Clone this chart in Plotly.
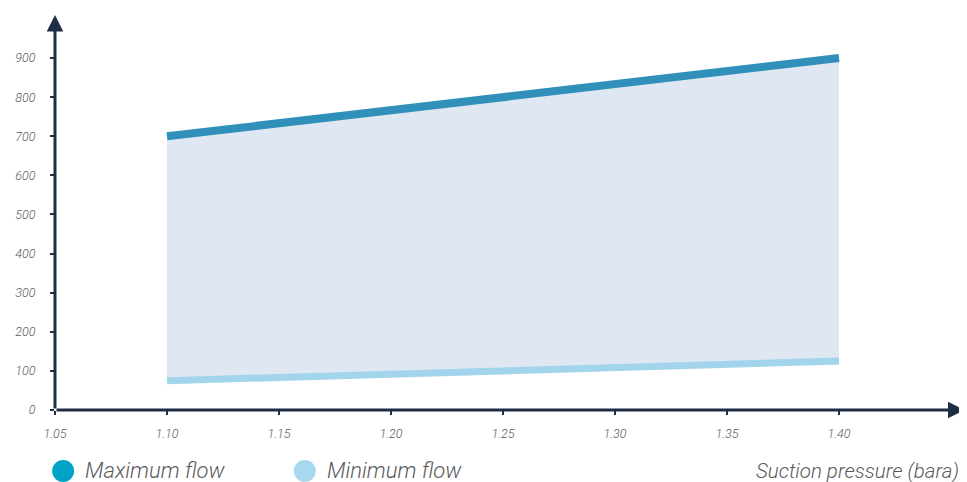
import plotly.graph_objects as go

pressure = [1.10, 1.40]
max_flow = [700, 900]
min_flow = [75, 125]
x_ticks = [1.05, 1.10, 1.15, 1.20, 1.25, 1.30, 1.35, 1.40]
x_tick_labels = ["1.05", "1.10", "1.15", "1.20", "1.25", "1.30", "1.35", "1.40"]
y_ticks = [0, 100, 200, 300, 400, 500, 600, 700, 800, 900]
series_names = ["Maximum flow", "Minimum flow"]

X0, X1 = 1.05, 1.454
Y0, Y1 = 0, 1005
axis_col = "#1e2c45"
max_col = "#3090ba"
min_col = "#a2d4ec"
fill_col = "#dfe8f2"
txt_col = "#5a5a5a"
font_fam = "Roboto, Liberation Sans, sans-serif"

fig = go.Figure()
fig.add_trace(go.Scatter(x=pressure, y=min_flow, mode="lines",
                         line=dict(color=min_col, width=7), showlegend=False,
                         hoverinfo="skip"))
fig.add_trace(go.Scatter(x=pressure, y=max_flow, mode="lines", fill="tonexty",
                         fillcolor=fill_col,
                         line=dict(color=max_col, width=8), showlegend=False,
                         hoverinfo="skip"))

fig.update_layout(
    width=959, height=474,
    margin=dict(l=43, r=7, t=9, b=72),
    paper_bgcolor="white", plot_bgcolor="white",
    font=dict(family=font_fam, color=txt_col),
    xaxis=dict(range=[X0, X1], tickvals=x_ticks, ticktext=x_tick_labels,
               showgrid=False, zeroline=False, showline=False,
               ticks="outside", ticklen=4, tickwidth=2, tickcolor=axis_col,
               ticklabelstandoff=8,
               tickfont=dict(size=12.5, style="italic", color=txt_col, weight=300)),
    yaxis=dict(range=[Y0, Y1], tickvals=y_ticks,
               showgrid=False, zeroline=False, showline=False,
               ticks="outside", ticklen=4, tickwidth=2, tickcolor=axis_col,
               ticklabelstandoff=12,
               tickfont=dict(size=12.5, style="italic", color=txt_col, weight=300)),
    showlegend=False,
)

# axes with arrowheads
fig.add_annotation(x=X1 + 0.002, y=0, ax=X0, ay=0, xref="x", yref="y", axref="x", ayref="y",
                   showarrow=True, arrowhead=2, arrowsize=1.1, arrowwidth=3,
                   arrowcolor=axis_col, text="")
fig.add_annotation(x=X0, y=Y1 + 5, ax=X0, ay=0, xref="x", yref="y", axref="x", ayref="y",
                   showarrow=True, arrowhead=2, arrowsize=1.1, arrowwidth=3,
                   arrowcolor=axis_col, text="")

# manual legend
legend_cols = ["#00a3c6", "#a8d8ef"]
legend_x = [0.009, 0.276]
for name, col, lx in zip(series_names, legend_cols, legend_x):
    fig.add_shape(type="circle", xref="paper", yref="paper",
                  xsizemode="pixel", ysizemode="pixel",
                  xanchor=lx, yanchor=-0.155,
                  x0=-11, x1=11, y0=-11, y1=11,
                  fillcolor=col, line=dict(width=0))
    fig.add_annotation(x=lx + 0.022, y=-0.155, xref="paper", yref="paper",
                       text=name, showarrow=False, xanchor="left", yanchor="middle",
                       font=dict(size=22, style="italic", color=txt_col, weight=300))

fig.add_annotation(x=1.001, y=-0.155, xref="paper", yref="paper",
                   text="Suction pressure (bara)", showarrow=False,
                   xanchor="right", yanchor="middle",
                   font=dict(size=20.5, style="italic", color=txt_col, weight=300))

fig.write_html("out.html")
